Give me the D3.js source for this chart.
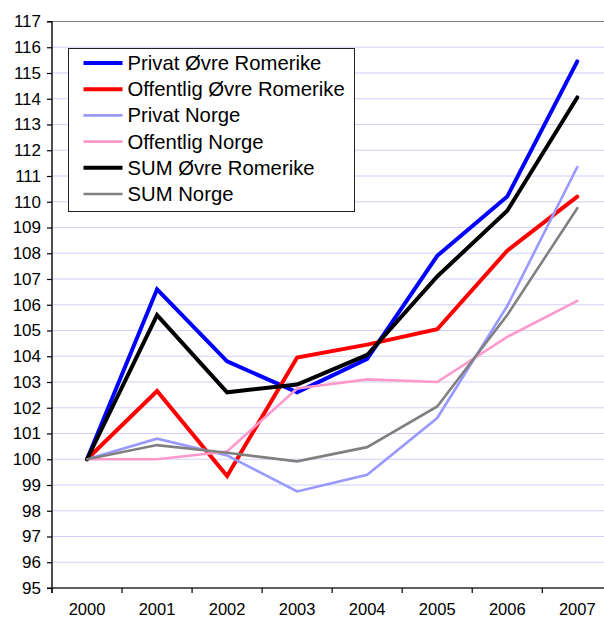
<!DOCTYPE html>
<html>
<head>
<meta charset="utf-8">
<script src="https://cdn.jsdelivr.net/npm/d3@7"></script>
<style>
	body { margin: 0; background: #fff; }
	svg { display: block; font-family: "Liberation Sans", Arial, sans-serif; }
</style>
</head>
<body>
<svg class="chart" width="604" height="619"></svg>
<script>
const years = ['2000', '2001', '2002', '2003', '2004', '2005', '2006', '2007'];
const yTicks = d3.range(95, 118);

const privatOR = [100, 106.6, 103.8, 102.6, 103.9, 107.9, 110.2, 115.45];
const offentligOR = [100, 102.65, 99.35, 103.95, 104.45, 105.05, 108.1, 110.2];
const privatNorge = [100, 100.8, 100.15, 98.75, 99.4, 101.6, 105.95, 111.35];
const offentligNorge = [100, 100, 100.3, 102.75, 103.1, 103.0, 104.75, 106.15];
const sumOR = [100, 105.6, 102.6, 102.9, 104.05, 107.1, 109.65, 114.05];
const sumNorge = [100, 100.55, 100.25, 99.92, 100.47, 102.05, 105.6, 109.75];

const seriesNames = [
	'Privat Øvre Romerike', 'Offentlig Øvre Romerike', 'Privat Norge',
	'Offentlig Norge', 'SUM Øvre Romerike', 'SUM Norge'
];

function startApp() {
	const margin = {top: 21.5, left: 52, bottom: 31, right: -8.3};
	const viewWidth = 604;
	const viewHeight = 619;
	const width = viewWidth - margin.left - margin.right;
	const height = viewHeight - margin.top - margin.bottom;

	const series = [
		{name: seriesNames[0], values: privatOR, color: '#0000ff', width: 4},
		{name: seriesNames[1], values: offentligOR, color: '#ff0000', width: 4},
		{name: seriesNames[2], values: privatNorge, color: '#9999ff', width: 2.6},
		{name: seriesNames[3], values: offentligNorge, color: '#ff99cc', width: 2.6},
		{name: seriesNames[4], values: sumOR, color: '#000000', width: 4},
		{name: seriesNames[5], values: sumNorge, color: '#808080', width: 2.6}
	];

	const xScale = d3.scaleBand().domain(years).range([0, width]);
	const yScale = d3.scaleLinear().domain([95, 117]).range([height, 0]);

	const chart = d3.select('.chart')
		.append('g')
		.attr('transform', `translate(${margin.left}, ${margin.top})`);

	// gridlines
	chart.append('g')
		.selectAll('line')
		.data(yTicks.filter(t => t > 95 && t < 117))
		.enter()
			.append('line')
			.attr('x1', 0)
			.attr('x2', width)
			.attr('y1', d => yScale(d))
			.attr('y2', d => yScale(d))
			.attr('stroke', '#d0d0fa')
			.attr('stroke-width', 1.2);

	// plot area border
	chart.append('rect')
		.attr('width', width)
		.attr('height', height)
		.attr('fill', 'none')
		.attr('stroke', '#808080')
		.attr('stroke-width', 1);

	const yAxis = d3.axisLeft(yScale)
		.tickValues(yTicks)
		.tickSize(5)
		.tickPadding(6)
		.tickFormat(d3.format('d'));
	const xAxis = d3.axisBottom(xScale)
		.tickValues(years)
		.tickSize(5)
		.tickPadding(10);

	chart.append('g')
		.classed('axis', true)
		.call(yAxis)
		.call(g => g.select('.domain').attr('d', `M-5,${height}H0V0H-5`))
		.selectAll('text')
		.attr('font-size', 17)
		.attr('fill', '#000');

	const xg = chart.append('g')
		.classed('axis', true)
		.attr('transform', `translate(0, ${height})`)
		.call(xAxis);
	xg.select('.domain').attr('d', `M0,0V5M0,0H${width}`);
	// ticks sit between categories
	xg.selectAll('.tick line')
		.attr('x1', -xScale.bandwidth() / 2)
		.attr('x2', -xScale.bandwidth() / 2);
	xg.selectAll('text')
		.attr('font-size', 16.5)
		.attr('fill', '#000');
	chart.selectAll('.axis path, .axis line').attr('stroke', '#000').attr('stroke-width', 1.2);

	const line = d3.line()
		.x((d, i) => xScale(years[i]) + xScale.bandwidth() / 2)
		.y(d => yScale(d));

	chart.append('g')
		.selectAll('path')
		.data(series)
		.enter()
			.append('path')
			.attr('d', d => line(d.values))
			.attr('fill', 'none')
			.attr('stroke', d => d.color)
			.attr('stroke-width', d => d.width)
			.attr('stroke-linejoin', 'miter')
			.attr('stroke-linecap', 'round');

	// legend
	const legend = d3.select('.chart').append('g')
		.attr('transform', 'translate(68.5, 48.5)');
	legend.append('rect')
		.attr('width', 286)
		.attr('height', 163)
		.attr('fill', '#fff')
		.attr('stroke', '#222')
		.attr('stroke-width', 1);
	const item = legend.selectAll('g.item')
		.data(series)
		.enter()
			.append('g')
			.classed('item', true)
			.attr('transform', (d, i) => `translate(0, ${14.5 + i * 26.2})`);
	item.append('line')
		.attr('x1', 15)
		.attr('x2', 54)
		.attr('stroke', d => d.color)
		.attr('stroke-width', d => d.width);
	item.append('text')
		.attr('x', 59)
		.attr('y', 7)
		.attr('font-size', 20.3)
		.text(d => d.name);
}

window.onload = startApp;
</script>
</body>
</html>
